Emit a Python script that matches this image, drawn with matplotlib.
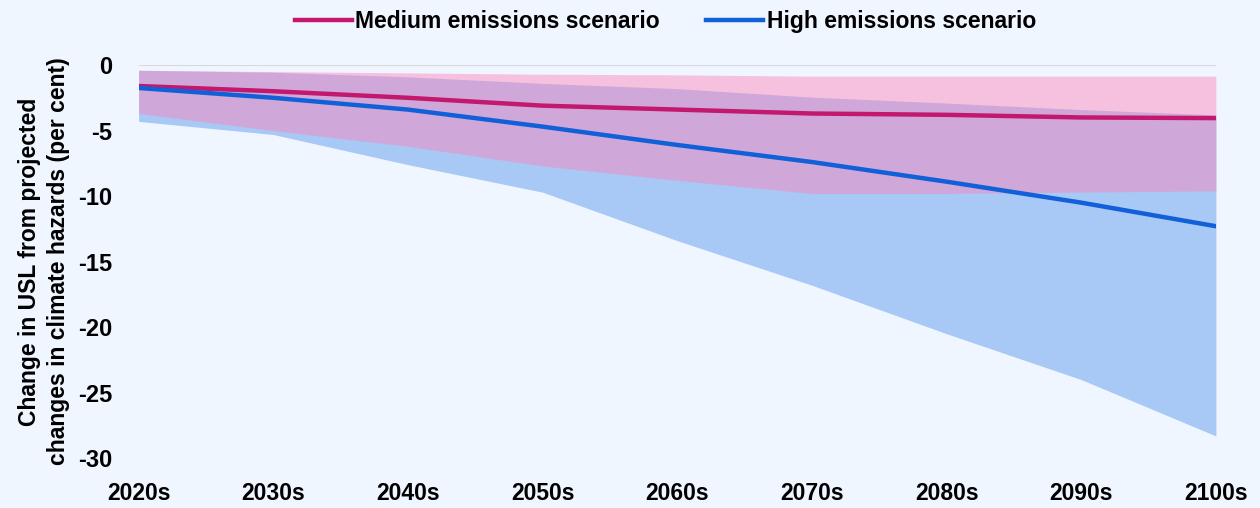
import matplotlib
matplotlib.use("Agg")
import matplotlib.pyplot as plt
from matplotlib import font_manager

# decades on the x axis
decades = ["2020s", "2030s", "2040s", "2050s", "2060s", "2070s", "2080s", "2090s", "2100s"]

# central estimates (per cent change in USL)
medium = [-1.6, -2.0, -2.5, -3.1, -3.4, -3.7, -3.8, -4.0, -4.05]
high = [-1.75, -2.5, -3.4, -4.7, -6.1, -7.4, -8.9, -10.5, -12.3]

# uncertainty ranges
medium_upper = [-0.4, -0.5, -0.6, -0.7, -0.75, -0.85, -0.85, -0.85, -0.85]
medium_lower = [-3.7, -5.0, -6.2, -7.7, -8.8, -9.8, -9.8, -9.7, -9.6]
high_upper = [-0.4, -0.55, -0.9, -1.4, -1.8, -2.45, -2.9, -3.4, -3.8]
high_lower = [-4.3, -5.3, -7.6, -9.7, -13.4, -16.8, -20.5, -24.0, -28.3]

yticks = [0, -5, -10, -15, -20, -25, -30]

installed = {f.name for f in font_manager.fontManager.ttflist}
family = ["Liberation Sans Narrow", "DejaVu Sans"] if "Liberation Sans Narrow" in installed else ["Liberation Sans", "DejaVu Sans"]
plt.rcParams["font.family"] = family
plt.rcParams["font.weight"] = "bold"

bg = "#eff6ff"
pink_line = "#c2186e"
blue_line = "#1160d8"

fig = plt.figure(figsize=(12.6, 5.08), dpi=100, facecolor=bg)
ax = fig.add_axes([0.110, 0.098, 0.855, 0.774], facecolor=bg)

x = list(range(len(decades)))

ax.axhline(0, color="#d9d9d9", lw=1.5, zorder=1)
ax.fill_between(x, high_lower, high_upper, color="#a8c8f5", lw=0, zorder=2)
ax.fill_between(x, medium_lower, medium_upper, color="#ff82b9", alpha=0.45, lw=0, zorder=3)

ax.plot(x, medium, color=pink_line, lw=3.2, zorder=4, label="Medium emissions scenario")
ax.plot(x, high, color=blue_line, lw=3.2, zorder=5, label="High emissions scenario")

ax.set_xlim(0, len(decades) - 1)
ax.set_ylim(-30, 0)
ax.set_xticks(x)
ax.set_xticklabels(decades, fontsize=16.5, fontweight="bold")
ax.set_yticks(yticks)
ax.set_yticklabels([str(v) for v in yticks], fontsize=17, fontweight="bold")
ax.tick_params(axis="y", length=0, pad=19)
ax.tick_params(axis="x", length=0, pad=17)
for s in ax.spines.values():
    s.set_visible(False)

ax.set_ylabel("Change in USL from projected\nchanges in climate hazards (per cent)",
              fontsize=16.5, fontweight="bold", labelpad=6, linespacing=1.3)

fig.legend(loc="upper center", bbox_to_anchor=(0.528, 1.02), ncol=2, frameon=False,
           fontsize=16.5, handlelength=2.5, handletextpad=0.15, columnspacing=2.0)

plt.savefig("out.png", dpi=100, facecolor=bg)
